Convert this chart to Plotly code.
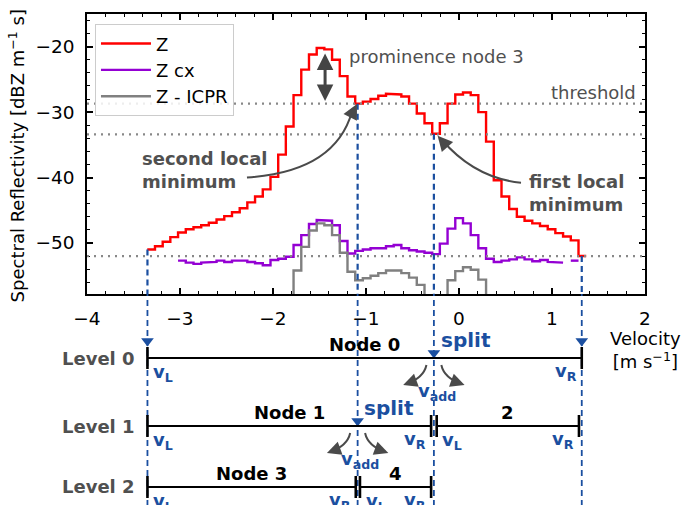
import plotly.graph_objects as go

# ---------------- data ----------------
# velocity bin edges [m/s] (57 bins)
VEL_EDGES = [-3.352, -3.269, -3.186, -3.104, -3.021, -2.938, -2.855, -2.772, -2.690, -2.607,
             -2.524, -2.441, -2.358, -2.276, -2.193, -2.110, -2.027, -1.944, -1.862, -1.779,
             -1.696, -1.613, -1.530, -1.448, -1.365, -1.282, -1.199, -1.116, -1.034, -0.951,
             -0.868, -0.785, -0.702, -0.620, -0.537, -0.454, -0.371, -0.288, -0.206, -0.123,
             -0.040, 0.043, 0.126, 0.208, 0.291, 0.374, 0.457, 0.540, 0.622, 0.705,
             0.788, 0.871, 0.954, 1.036, 1.119, 1.202, 1.285, 1.368]

Z = [-51.0, -50.5, -49.8, -49.1, -48.4, -47.9, -47.6, -47.3, -46.9, -46.4,
     -45.9, -45.3, -44.7, -43.8, -42.9, -41.8, -39.9, -36.5, -32.2, -27.4,
     -23.5, -21.2, -20.2, -20.4, -22.0, -24.5, -27.6, -28.7, -28.4, -28.0,
     -27.5, -27.2, -27.3, -27.6, -28.7, -30.2, -31.7, -33.3, -31.7, -28.7,
     -27.3, -27.0, -27.4, -30.0, -34.5, -40.4, -42.9, -44.8, -46.0, -46.6,
     -47.0, -47.4, -47.9, -48.5, -49.0, -49.6, -52.0]

Z_CX = [None, None, None, None, -52.7, -53.0, -53.2, -53.0, -52.9, -52.7,
        -52.9, -52.7, -52.7, -52.9, -53.1, -53.4, -52.6, -52.4, -52.1, -50.3,
        -48.8, -47.1, -46.5, -46.6, -47.3, -49.7, -51.6, -51.2, -51.0, -50.8,
        -50.8, -50.5, -50.3, -50.8, -51.1, -51.3, -51.5, -51.7, -50.1, -47.8,
        -46.2, -47.0, -48.8, -50.8, -52.4, -52.9, -52.7, -52.5, -52.2, -52.5,
        -52.8, -52.6, -52.9, -53.0, None, -52.7, None]

Z_ICPR = [None, None, None, None, None, None, None, None, None, None,
          None, None, None, None, None, None, None, None, -62.0, -54.2,
          -50.6, -48.1, -47.0, -47.3, -48.8, -51.5, -54.4, -55.7, -55.4, -55.0,
          -54.6, -54.2, -54.2, -54.6, -55.3, -56.4, -62.0, -62.0, -62.0, -55.7,
          -54.3, -53.7, -54.1, -55.6, -62.0, None, None, None, None, None,
          None, None, None, None, None, None, None]

THRESHOLD_LINES = [-28.7, -33.4, -52.0]

V_LEFT, Z_LEFT = -3.35, -51.0
V_RIGHT, Z_RIGHT = 1.32, -52.0
SPLIT_LEVEL = [0, 1]
SPLIT_V = [-0.27, -1.09]
SPLIT_Z = [-33.3, -28.7]

LEVEL_NAMES = ["Level 0", "Level 1", "Level 2"]
LEVEL_ROW = [358, 426, 487]          # rows of the tree diagram (diagram axis units)
NODE_NAMES = ["Node 0", "Node 1", "2", "Node 3", "4"]
NODE_LEVEL = [0, 1, 1, 2, 2]
NODE_VL = [-3.35, -3.35, -0.24, -3.35, -1.065]
NODE_VR = [1.32, -0.30, 1.29, -1.11, -0.30]

PROM_V = -1.44
PROM_TOP, PROM_BOT = -20.8, -28.3

# ---------------- styles ----------------
FONT = "DejaVu Sans"
BLUE = "#1b4fa0"
GREY_TXT = "#505050"
ARROW = "#4a4a4a"


def steps(edges, vals):
    xs, ys = [], []
    for i, v in enumerate(vals):
        if v is None:
            xs.append(None)
            ys.append(None)
            continue
        xs += [edges[i], edges[i + 1]]
        ys += [v, v]
    return xs, ys


fig = go.Figure()
for name, vals, col in [("Z", Z, "#ff0000"), ("Z cx", Z_CX, "#9400d3"), ("Z - ICPR", Z_ICPR, "#808080")]:
    xs, ys = steps(VEL_EDGES, vals)
    fig.add_trace(go.Scatter(x=xs, y=ys, mode="lines", name=name,
                             line=dict(color=col, width=2.4), connectgaps=False))

shapes = []
annotations = []

# dotted horizontal lines
for t in THRESHOLD_LINES:
    shapes.append(dict(type="line", xref="x", yref="y", x0=-4, x1=2, y0=t, y1=t,
                       line=dict(color="#888888", width=2.2, dash="2px,5px"), layer="above"))

# blue dashed verticals
for v, z in [(V_LEFT, Z_LEFT), (V_RIGHT, Z_RIGHT)] + list(zip(SPLIT_V, SPLIT_Z)):
    shapes.append(dict(type="line", xref="x", yref="y", x0=v, x1=v, y0=z, y1=-62,
                       line=dict(color=BLUE, width=2.2, dash="6px,4px"), layer="above"))
    shapes.append(dict(type="line", xref="x2", yref="y2", x0=v, x1=v, y0=290, y1=510,
                       line=dict(color=BLUE, width=1.8, dash="6px,4px"), layer="above"))

# tree nodes
for nm, lv, vl, vr in zip(NODE_NAMES, NODE_LEVEL, NODE_VL, NODE_VR):
    ly = LEVEL_ROW[lv]
    shapes.append(dict(type="line", xref="x2", yref="y2", x0=vl, x1=vr, y0=ly, y1=ly,
                       line=dict(color="black", width=2.2)))
    for v in (vl, vr):
        shapes.append(dict(type="line", xref="x2", yref="y2", x0=v, x1=v, y0=ly - 11, y1=ly + 11,
                           line=dict(color="black", width=2.6)))
    annotations.append(dict(x=(vl + vr) / 2, y=ly - 14, xref="x2", yref="y2", text="<b>%s</b>" % nm,
                            showarrow=False, font=dict(size=18, color="black", family=FONT),
                            xanchor="center", yanchor="middle"))
    annotations.append(dict(x=vl + 0.04, y=ly + 15, xref="x2", yref="y2", text="<b>v<sub>L</sub></b>",
                            showarrow=False, font=dict(size=18, color=BLUE, family=FONT),
                            xanchor="left", yanchor="middle"))
    annotations.append(dict(x=vr - 0.03, y=ly + 14, xref="x2", yref="y2", text="<b>v<sub>R</sub></b>",
                            showarrow=False, font=dict(size=18, color=BLUE, family=FONT),
                            xanchor="right", yanchor="middle"))

for i, nm in enumerate(LEVEL_NAMES):
    annotations.append(dict(x=0.09, y=LEVEL_ROW[i], xref="paper", yref="y2", text="<b>%s</b>" % nm,
                            showarrow=False, font=dict(size=18, color=GREY_TXT, family=FONT),
                            xanchor="right", yanchor="middle"))

# split markers and arrows
for lv, v in zip(SPLIT_LEVEL, SPLIT_V):
    ly = LEVEL_ROW[lv]
    annotations.append(dict(x=v + 0.05, y=ly - 18, xref="x2", yref="y2", text="<b>split</b>",
                            showarrow=False, font=dict(size=20, color=BLUE, family=FONT),
                            xanchor="left", yanchor="middle"))
    annotations.append(dict(x=v + 0.03, y=ly + 34, xref="x2", yref="y2", text="<b>v<sub>add</sub></b>",
                            showarrow=False, font=dict(size=18, color=BLUE, family=FONT),
                            xanchor="center", yanchor="middle"))
    for s in (-1, 1):
        x0, y0 = v + s * 0.08, ly + 7
        cx, cy = v + s * 0.11, ly + 20
        x1, y1 = v + s * 0.30, ly + 26
        shapes.append(dict(type="path", xref="x2", yref="y2",
                           path="M %f,%f Q %f,%f %f,%f" % (x0, y0, cx, cy, x1, y1),
                           line=dict(color=ARROW, width=2)))
        annotations.append(dict(x=v + s * 0.33, y=ly + 27, ax=v + s * 0.24, ay=ly + 24,
                                xref="x2", yref="y2", axref="x2", ayref="y2", text="",
                                showarrow=True, arrowhead=2, arrowsize=1.4, arrowwidth=2,
                                arrowcolor=ARROW, standoff=0))

# triangles on dashed lines
tri_x = [V_LEFT, V_RIGHT] + SPLIT_V
tri_y = [LEVEL_ROW[0] - 17, LEVEL_ROW[0] - 17] + [LEVEL_ROW[l] - 5 for l in SPLIT_LEVEL]
fig.add_trace(go.Scatter(x=tri_x, y=tri_y, xaxis="x2", yaxis="y2", mode="markers",
                         marker=dict(symbol="triangle-down", size=11, color=BLUE),
                         showlegend=False, hoverinfo="skip", cliponaxis=False))

# main-plot annotations
annotations += [
    dict(x=-1.2, y=-21.5, xref="x", yref="y", text="prominence node 3", showarrow=False,
         font=dict(size=18, color=GREY_TXT, family=FONT), xanchor="left", yanchor="middle"),
    dict(x=1.92, y=-27.0, xref="x", yref="y", text="threshold", showarrow=False,
         font=dict(size=18, color=GREY_TXT, family=FONT), xanchor="right", yanchor="middle"),
    dict(x=-3.43, y=-38.9, xref="x", yref="y", text="<b>second local<br>minimum</b>", showarrow=False,
         align="left", font=dict(size=18, color=GREY_TXT, family=FONT), xanchor="left", yanchor="middle"),
    dict(x=0.73, y=-42.4, xref="x", yref="y", text="<b>first local<br>minimum</b>", showarrow=False,
         align="left", font=dict(size=18, color=GREY_TXT, family=FONT), xanchor="left", yanchor="middle"),
    dict(x=PROM_V, y=PROM_BOT, ax=PROM_V, ay=PROM_TOP, xref="x", yref="y", axref="x", ayref="y",
         text="", showarrow=True, arrowside="end+start", arrowhead=2, startarrowhead=2,
         arrowsize=1.1, startarrowsize=1.1, arrowwidth=3, arrowcolor="#444444", standoff=0, startstandoff=0),
    dict(x=-1.097, y=-28.75, ax=-1.17, ay=-30.8, xref="x", yref="y", axref="x", ayref="y",
         text="", showarrow=True, arrowhead=2, arrowsize=1.5, arrowwidth=2, arrowcolor=ARROW, standoff=0),
    dict(x=-0.23, y=-33.6, ax=-0.15, ay=-34.9, xref="x", yref="y", axref="x", ayref="y",
         text="", showarrow=True, arrowhead=2, arrowsize=1.5, arrowwidth=2, arrowcolor=ARROW, standoff=0),
    dict(x=-0.1255, y=0.712, xref="paper", yref="paper", text="Spectral Reflectivity [dBZ m<sup>−1</sup> s]",
         textangle=-90, showarrow=False, font=dict(size=18, color="black", family=FONT),
         xanchor="center", yanchor="middle"),
    dict(x=1.0, y=0.316, xref="paper", yref="paper", text="Velocity<br>[m s<sup>−1</sup>]",
         showarrow=False, font=dict(size=18, color="black", family=FONT), xanchor="center", yanchor="middle"),
]

# curved arrow paths in main plot
shapes.append(dict(type="path", xref="x", yref="y",
                   path="M -2.28,-39.98 Q -1.333,-39.14 -1.15,-29.9",
                   line=dict(color=ARROW, width=2)))
shapes.append(dict(type="path", xref="x", yref="y",
                   path="M 0.667,-40.8 Q 0.17,-40.06 -0.18,-34.3",
                   line=dict(color=ARROW, width=2)))

axis_common = dict(showgrid=False, zeroline=False, showline=True, linecolor="black", linewidth=1.5,
                   mirror="allticks", ticks="inside", ticklen=6, tickwidth=1.5, tickcolor="black",
                   tickfont=dict(size=18.5, color="black", family=FONT))

fig.update_layout(
    width=683, height=505,
    margin=dict(l=87, r=38, t=14, b=0, pad=0),
    paper_bgcolor="white", plot_bgcolor="white",
    font=dict(family=FONT, color="black"),
    xaxis=dict(domain=[0, 1], range=[-4, 2], anchor="y", dtick=1, tick0=0,
               minor=dict(dtick=0.2, ticklen=3, ticks="inside", tickcolor="black", tickwidth=1),
               ticklabelstandoff=7, **axis_common),
    yaxis=dict(domain=[0.4297, 1], range=[-57.8, -15], anchor="x", dtick=10, tick0=0,
               minor=dict(dtick=2, ticklen=3, ticks="inside", tickcolor="black", tickwidth=1),
               ticklabelstandoff=7, **axis_common),
    xaxis2=dict(domain=[0, 1], range=[-4, 2], anchor="y2", visible=False),
    yaxis2=dict(domain=[0, 0.4297], range=[505, 294], anchor="x2", visible=False),
    legend=dict(x=0.0143, y=0.979, xanchor="left", yanchor="top", bgcolor="rgba(255,255,255,0.85)",
                bordercolor="#cccccc", borderwidth=1, font=dict(size=18, family=FONT, color="black"),
                itemwidth=50, tracegroupgap=0),
    shapes=shapes, annotations=annotations,
)

fig.write_html("out.html")
